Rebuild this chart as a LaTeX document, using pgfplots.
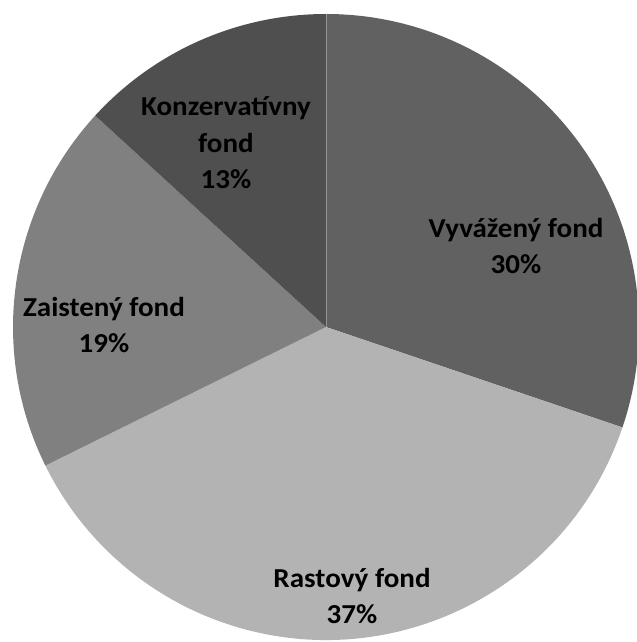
\documentclass[border=0pt]{standalone}
\usepackage{pgfplots}
\usepackage{pgfplotstable}
\pgfplotsset{compat=1.18}
\usepackage{fontspec}
\setmainfont[FakeStretch=1.06]{Carlito}
\definecolor{sliceA}{HTML}{616161}
\definecolor{sliceB}{HTML}{B3B3B3}
\definecolor{sliceC}{HTML}{808080}
\definecolor{sliceD}{HTML}{4F4F4F}
\definecolor{edge}{HTML}{FEFEFE}
\pgfplotstableread{
value
30.2
37.5
19.1
13.2
}\piedata
\tikzset{lbl/.style={font=\bfseries\fontsize{27.5}{36.5}\selectfont, align=center, text=black, inner sep=0pt}}
\begin{document}
\begin{tikzpicture}
\pgfplotstablegetelem{0}{value}\of\piedata \let\va\pgfplotsretval
\pgfplotstablegetelem{1}{value}\of\piedata \let\vb\pgfplotsretval
\pgfplotstablegetelem{2}{value}\of\piedata \let\vc\pgfplotsretval
\pgfplotstablegetelem{3}{value}\of\piedata \let\vd\pgfplotsretval
\pgfmathsetmacro\tot{\va+\vb+\vc+\vd}
\pgfmathsetmacro\aA{90}
\pgfmathsetmacro\aB{\aA-360*\va/\tot}
\pgfmathsetmacro\aC{\aB-360*\vb/\tot}
\pgfmathsetmacro\aD{\aC-360*\vc/\tot}
\pgfmathsetmacro\aE{\aD-360*\vd/\tot}
\begin{axis}[
  width=637bp, height=642bp, scale only axis,
  xmin=0, xmax=637, ymin=-642, ymax=0,
  hide axis, clip=true,
]
\draw[edge, line width=2bp] (axis cs:0,0) rectangle (axis cs:637,-642);
\fill[sliceA] (axis cs:326,-327) -- ++(\aA:313bp) arc[start angle=\aA, end angle=\aB, radius=313bp] -- cycle;
\fill[sliceB] (axis cs:326,-327) -- ++(\aB:313bp) arc[start angle=\aB, end angle=\aC, radius=313bp] -- cycle;
\fill[sliceC] (axis cs:326,-327) -- ++(\aC:313bp) arc[start angle=\aC, end angle=\aD, radius=313bp] -- cycle;
\fill[sliceD] (axis cs:326,-327) -- ++(\aD:313bp) arc[start angle=\aD, end angle=\aE, radius=313bp] -- cycle;
\draw[gray!85!white, line width=0.6bp] (axis cs:326,-327) -- ++(\aA:313bp);
\node[lbl] at (axis cs:516,-246) {Vyvážený fond\\30\%};
\node[lbl] at (axis cs:352,-596) {Rastový fond\\37\%};
\node[lbl] at (axis cs:104,-325) {Zaistený fond\\19\%};
\node[lbl] at (axis cs:226,-143) {Konzervatívny\\fond\\13\%};
\end{axis}
\end{tikzpicture}
\end{document}
